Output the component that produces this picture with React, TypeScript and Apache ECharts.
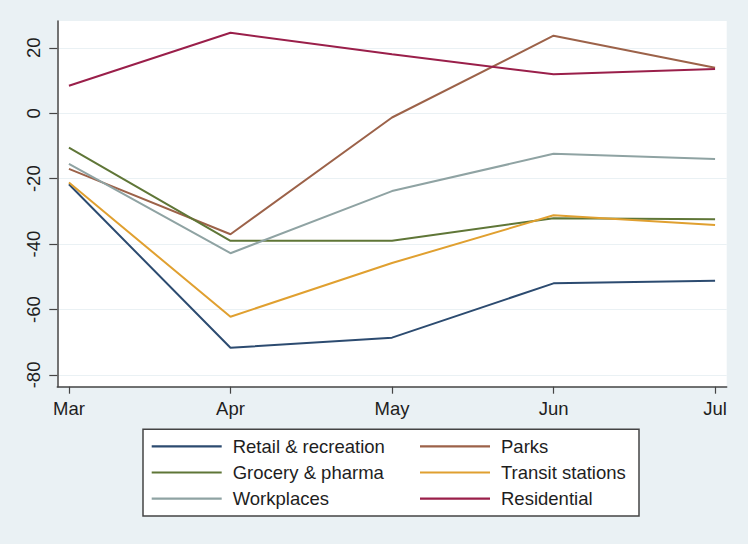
import React, { useEffect, useRef } from "react";
import * as echarts from "echarts";

const categories = ["Mar", "Apr", "May", "Jun", "Jul"];
const yTicks = [-80, -60, -40, -20, 0, 20];
const seriesNames = [
  "Retail & recreation",
  "Parks",
  "Grocery & pharma",
  "Transit stations",
  "Workplaces",
  "Residential",
];
const retail = [-21.7, -71.7, -68.6, -52.0, -51.2];
const parks = [-17.0, -37.0, -1.3, 23.7, 13.9];
const grocery = [-10.5, -39.0, -39.0, -32.1, -32.4];
const transit = [-21.2, -62.2, -45.8, -31.2, -34.2];
const workplaces = [-15.5, -42.8, -23.8, -12.4, -14.0];
const residential = [8.4, 24.6, 18.0, 11.9, 13.5];
const colors = ["#2c4b70", "#9c6249", "#5f7637", "#e0a030", "#8fa3a3", "#9a1f4a"];

const FONT = "Liberation Sans, Arial, sans-serif";

export default function App() {
  const ref = useRef<HTMLDivElement>(null);
  useEffect(() => {
    document.body.style.margin = "0";
    const chart = echarts.init(ref.current!, null, { renderer: "svg" });
    const allData = [retail, parks, grocery, transit, workplaces, residential];
    const series = allData.map((vals, i) => ({
      name: seriesNames[i],
      type: "line",
      symbol: "none",
      data: vals.map((v, j) => [j, v]),
      lineStyle: { width: 2, color: colors[i] },
      itemStyle: { color: colors[i] },
      clip: false,
    }));
    const legendCommon = {
      orient: "vertical",
      top: 436.3,
      padding: 0,
      icon: "rect",
      itemWidth: 70,
      itemHeight: 2.2,
      itemGap: 6.2,
      selectedMode: false,
      textStyle: {
        fontFamily: FONT,
        fontSize: 18.5,
        color: "#1e1e1e",
        lineHeight: 20,
        padding: [0, 0, 0, 6],
      },
    };
    chart.setOption({
      animation: false,
      backgroundColor: "#eaf1f4",
      color: colors,
      grid: {
        left: 57.3,
        right: 21.3,
        top: 21,
        bottom: 157.3,
        show: true,
        backgroundColor: "#ffffff",
        borderWidth: 0,
        containLabel: false,
      },
      xAxis: {
        type: "value",
        min: -0.072,
        max: 4.072,
        axisLine: { show: true, onZero: false, lineStyle: { color: "#444", width: 1.5 } },
        axisTick: {
          show: true,
          length: 7,
          customValues: [0, 1, 2, 3, 4],
          lineStyle: { color: "#444", width: 1.2 },
        },
        axisLabel: {
          customValues: [0, 1, 2, 3, 4],
          formatter: (v: number) => categories[Math.round(v)],
          fontFamily: FONT,
          fontSize: 18.5,
          color: "#1e1e1e",
          margin: 12,
        },
        splitLine: { show: false },
      },
      yAxis: {
        type: "value",
        min: -83.6,
        max: 28.2,
        axisLine: { show: true, onZero: false, lineStyle: { color: "#444", width: 1.5 } },
        axisTick: {
          show: true,
          length: 8,
          customValues: yTicks,
          lineStyle: { color: "#444", width: 1.2 },
        },
        axisLabel: {
          customValues: yTicks,
          rotate: 90,
          fontFamily: FONT,
          fontSize: 18.5,
          color: "#1e1e1e",
          margin: 14,
        },
        splitLine: { show: true, lineStyle: { color: "#eaf1f4", width: 1.2 } },
      },
      legend: [
        { ...legendCommon, left: 151.7, data: [seriesNames[0], seriesNames[2], seriesNames[4]] },
        { ...legendCommon, left: 420, data: [seriesNames[1], seriesNames[3], seriesNames[5]] },
      ],
      graphic: [
        {
          type: "rect",
          shape: { x: 143, y: 429.3, width: 496, height: 86.7 },
          style: { fill: "#ffffff", stroke: "#444", lineWidth: 1.5 },
          z: -1,
          silent: true,
        },
      ],
      series,
    });
    return () => chart.dispose();
  }, []);
  return <div ref={ref} style={{ width: 748, height: 544 }} />;
}
